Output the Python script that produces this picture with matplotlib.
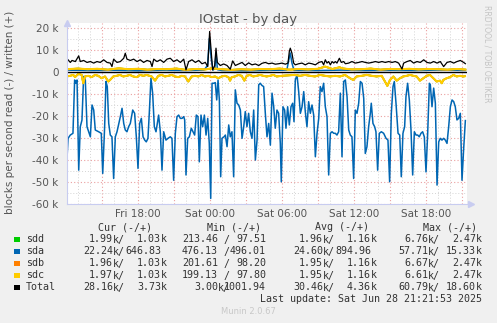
import matplotlib
matplotlib.use("Agg")
import matplotlib.pyplot as plt
from matplotlib.patches import Rectangle

# time axis: hours relative to Sat 00:00
tick_hours = [-9, -6, -3, 0, 3, 6, 9, 12, 15, 18, 21]
tick_labels = ["", "Fri 18:00", "", "Sat 00:00", "", "Sat 06:00", "", "Sat 12:00", "", "Sat 18:00", ""]

# sda read (plotted negative), values in k blocks/s
sda_read_t = [-11.94, -11.83, -11.64, -11.42, -11.28, -11.17, -11.08, -10.94, -10.81, -10.67, -10.53, -10.39,
              -10.25, -10.11, -9.97, -9.83, -9.69, -9.56, -9.28, -9.06, -8.94, -8.78, -8.67, -8.56, -8.44,
              -8.31, -8.17, -8.03, -7.89, -7.75, -7.47, -7.33, -7.19, -7.06, -6.92, -6.78, -6.64, -6.44,
              -6.28, -6.14, -6.0, -5.86, -5.72, -5.58, -5.44, -5.31, -5.17, -5.06, -4.92, -4.78, -4.64,
              -4.5, -4.28, -4.14, -4.0, -3.86, -3.67, -3.5, -3.31, -3.17, -3.03, -2.89, -2.75, -2.61,
              -2.47, -2.33, -2.19, -2.11, -2.0, -1.86, -1.72, -1.56, -1.42, -1.28, -1.14, -1.0, -0.89,
              -0.75, -0.61, -0.47, -0.33, -0.19, -0.06, 0.06, 0.17, 0.31, 0.44, 0.56, 0.67, 0.78, 0.89,
              1.0, 1.17, 1.28, 1.42, 1.56, 1.69, 1.83, 1.97, 2.11, 2.25, 2.39, 2.53, 2.67, 2.81, 2.94,
              3.08, 3.22, 3.36, 3.5, 3.64, 3.78, 3.92, 4.06, 4.19, 4.33, 4.47, 4.61, 4.75, 4.89, 5.03,
              5.17, 5.31, 5.44, 5.58, 5.72, 5.86, 5.94, 6.08, 6.22, 6.33, 6.47, 6.61, 6.75, 6.89, 7.0,
              7.11, 7.25, 7.39, 7.53, 7.67, 7.81, 7.94, 8.08, 8.22, 8.36, 8.5, 8.64, 8.78, 8.92, 9.06,
              9.19, 9.33, 9.47, 9.61, 9.75, 9.89, 10.03, 10.17, 10.31, 10.44, 10.58, 10.72, 10.86, 11.0,
              11.14, 11.28, 11.42, 11.56, 11.69, 11.83, 11.97, 12.11, 12.25, 12.39, 12.53, 12.67, 12.81,
              12.94, 13.08, 13.22, 13.36, 13.44, 13.58, 13.72, 13.83, 13.97, 14.11, 14.28, 14.47, 14.67,
              14.83, 14.97, 15.11, 15.25, 15.36, 15.5, 15.67, 15.81, 15.94, 16.08, 16.22, 16.33, 16.47,
              16.61, 16.75, 16.89, 17.03, 17.17, 17.31, 17.44, 17.58, 17.72, 17.86, 18.0, 18.14, 18.28,
              18.36, 18.5, 18.64, 18.78, 18.92, 19.06, 19.19, 19.33, 19.47, 19.61, 19.75, 19.89, 20.03,
              20.17, 20.31, 20.44, 20.58, 20.72, 20.86, 21.0, 21.14, 21.28]
sda_read = [42, 30.3, 28.8, 28, 3.7, 5.2, 3.7, 44.8, 25, 22, 2.1, 3.7,
            25, 27.3, 29.6, 15.1, 17.4, 26.5, 27.3, 28, 46.3, 25, 4.4, 6.7, 23.5,
            28.8, 29.6, 48.6, 29.6, 27.3, 20.4, 16.6, 23.5, 26.5, 27.3, 25, 23.5, 17.4,
            18.9, 29.6, 44, 23.5, 21.2, 29.6, 31.1, 31.9, 30.3, 18.9, 2.9, 9.7, 25,
            27.3, 19.7, 27.3, 44.8, 27.3, 31.1, 30.3, 29.6, 30.3, 49.4, 28, 20.4, 19.7,
            21.2, 21.2, 20.4, 21.9, 47, 30.3, 29.6, 25.7, 27.3, 28.8, 19.7, 20.4, 41,
            19.7, 25, 19.7, 28.8, 21.2, 32.6, 57.7, 5.2, 5.2, 4.9, 12.8, 3.7, 12.8, 47.8,
            30.3, 29.6, 28.8, 34.1, 24.2, 29.6, 27.3, 47.8, 8.2, 14.3, 15.1, 17.4, 30.3, 25, 18.1,
            25, 18.9, 27.3, 30.3, 17.4, 40.2, 31.1, 5.9, 5.2, 6.2, 6.7, 18.9, 29.6, 23.5, 33.4,
            9.7, 15.9, 25.7, 17.4, 18.9, 32.6, 50.1, 15.9, 17.4, 25.7, 15.9, 24.2, 15.9, 14.3, 22.7,
            3.7, 1.4, 9, 18.9, 15.9, 9, 18.1, 25, 13.6, 18.9, 15.1, 19.7, 38.7, 28, 21.2,
            6.7, 9, 5.2, 15.9, 20.4, 47, 28, 27.3, 28, 28, 28.8, 27.3, 9.7, 38.7,
            4.4, 3.7, 11.3, 26.5, 28.8, 29.6, 48.6, 17.4, 18.9, 14.3, 4.4, 5.2, 12,
            37.2, 34.1, 25, 18.9, 14.3, 23.5, 25, 27.3, 44.8, 28, 27.3, 28, 30.3,
            31.1, 50.1, 18.9, 6.7, 4.4, 14.3, 28, 28.8, 47.8, 28, 25, 11.3, 5.2,
            12.8, 26.5, 47, 27.3, 28.8, 28.8, 29.6, 28, 27.3, 29.6, 45.6, 28, 5.2,
            5.9, 15.9, 7.4, 14.3, 51.6, 31.9, 30.3, 31.1, 30.3, 31.1, 32.6, 25, 15.9,
            12.8, 13.6, 15.9, 21.9, 21.2, 18.9, 49.4, 34.9, 22.2]

# sda written
sda_write_t = [-11.94, -10, -8, -6, -4, -2, -0.5, -0.2, -0.05, 0.1, 0.25, 0.4, 0.5, 0.62, 1.0, 3, 5,
               6.4, 6.55, 6.69, 6.83, 7.0, 9, 11, 13, 15, 17, 19, 21.28]
sda_write = [0.8, 0.6, 0.7, 0.5, 0.7, 0.6, 0.8, 3.0, 15.3, 6.0, 0.8, 1.5, 8.5, 1.0, 0.6, 0.5, 0.7,
             0.8, 5.0, 8.6, 4.0, 0.7, 0.6, 0.8, 0.6, 0.7, 0.6, 0.8, 0.65]

# sdc read (sdb and sdd are practically the same and hidden under it)
sdc_read_t = [-11.94, -11.67, -11.39, -11.25, -10.97, -10.69, -10.56, -10.42, -10.14, -9.86, -9.58,
              -9.31, -9.03, -8.75, -8.47, -8.33, -8.06, -7.78, -7.5, -7.22, -6.94, -6.67, -6.39, -6.11,
              -5.83, -5.56, -5.28, -4.86, -4.58, -4.31, -4.03, -3.75, -3.47, -3.19, -2.92, -2.64, -2.36,
              -2.08, -1.81, -1.53, -1.25, -0.97, -0.69, -0.42, -0.14, 0.14, 0.42, 0.69, 0.97, 1.25,
              1.53, 1.67, 1.81, 2.08, 2.36, 2.64, 2.86, 3.06, 3.33, 3.61, 3.89, 4.17, 4.44, 4.72, 5.0,
              5.28, 5.56, 6.0, 6.5, 7.08, 7.5, 7.92, 8.33, 8.75, 9.17, 9.58, 10.0, 10.42, 10.83, 11.25,
              11.67, 11.94, 12.22, 12.64, 13.06, 13.47, 13.89, 14.31, 14.58, 14.78, 15.0, 15.28, 15.56,
              15.83, 16.11, 16.39, 16.67, 16.94, 17.22, 17.5, 17.78, 18.06, 18.33, 18.61, 18.89, 19.17,
              19.31, 19.44, 19.72, 20.0, 20.28, 20.56, 20.83, 21.11, 21.25]
sdc_read = [2.1, 1.8, 1.4, 2.4, 0.9, 1.4, 5.2, 2.1, 1.8, 2.4, 1.4,
            1.8, 2.9, 2.1, 4.4, 3.7, 2.1, 1.8, 1.4, 2.1, 1.8, 1.4, 2.1, 2.4,
            1.4, 1.8, 1.4, 2.1, 4.0, 1.8, 1.4, 2.1, 1.8, 1.4, 2.1, 2.4, 1.8,
            2.1, 4.4, 2.1, 1.8, 2.1, 1.4, 2.1, 1.8, 2.4, 2.1, 2.9, 2.1, 1.8,
            2.4, 4.0, 2.4, 2.1, 1.4, 1.8, 4.0, 1.8, 1.4, 2.1, 1.8, 1.4, 1.8, 2.1, 1.8,
            1.4, 2.1, 1.8, 1.6, 1.4, 1.8, 1.4, 1.8, 2.1, 1.4, 1.8, 2.1, 1.8, 2.1, 1.4,
            2.9, 3.7, 2.1, 1.8, 1.4, 1.8, 2.1, 1.8, 4.4, 6.4, 3.7, 2.1, 4.0,
            2.9, 2.1, 1.8, 1.4, 1.8, 2.1, 4.0, 2.9, 1.8, 1.4, 2.9, 4.4, 4.0,
            5.2, 3.7, 2.9, 2.4, 1.4, 2.1, 1.8, 2.1, 1.97]

# sdc written
sdc_write_t = [-11.94, -11.0, -10.2, -9.4, -8.5, -7.6, -6.8, -6.0, -5.2, -4.4, -3.6, -2.8, -2.0, -1.2,
               -0.4, 0.2, 1.0, 1.8, 2.6, 3.4, 4.2, 5.0, 5.8, 6.6, 7.4, 8.2, 9.0, 9.6, 10.2, 10.8, 11.0,
               11.8, 12.6, 13.4, 14.2, 15.0, 15.8, 16.6, 17.4, 18.2, 19.0, 19.8, 20.6, 21.28]
sdc_write = [1.2, 1.5, 1.2, 1.4, 1.0, 1.6, 1.2, 1.4, 1.0, 1.3, 1.2, 1.5, 0.9, 1.3,
             1.1, 1.6, 1.2, 0.9, 1.2, 1.0, 1.3, 1.2, 1.5, 1.0, 1.3, 1.1, 1.4, 2.4, 1.3, 2.1, 1.6,
             1.1, 1.2, 1.5, 1.0, 1.3, 1.2, 1.4, 1.1, 1.3, 1.2, 1.0, 1.3, 1.03]

# Total written
total_write_t = [-11.83, -11.64, -11.5, -11.22, -10.94, -10.81, -10.53, -10.25, -9.97, -9.69, -9.42,
                 -9.14, -8.86, -8.58, -8.31, -8.17, -8.03, -7.75, -7.47, -7.19, -7.06, -6.92, -6.64,
                 -6.36, -6.08, -5.81, -5.53, -5.25, -4.97, -4.83, -4.69, -4.42, -4.14, -3.86, -3.58,
                 -3.31, -3.03, -2.75, -2.47, -2.19, -2.0, -1.78, -1.5, -1.22, -0.94, -0.67, -0.39, -0.19,
                 -0.03, 0.11, 0.22, 0.39, 0.5, 0.61, 0.86, 1.14, 1.42, 1.69, 1.89, 2.11, 2.39, 2.67, 2.94,
                 3.22, 3.5, 3.78, 4.06, 4.33, 4.61, 4.89, 5.17, 5.44, 5.72, 6.0, 6.28, 6.5, 6.61, 6.69,
                 6.83, 6.97, 7.11, 7.39, 7.67, 7.94, 8.22, 8.5, 8.78, 9.06, 9.33, 9.47, 9.61, 9.75, 9.89,
                 10.03, 10.17, 10.31, 10.44, 10.58, 10.78, 10.94, 11.14, 11.28, 11.56, 11.83, 12.11,
                 12.39, 12.67, 12.94, 13.22, 13.5, 13.78, 14.06, 14.33, 14.61, 14.89, 15.17, 15.44,
                 15.72, 16.0, 16.14, 16.42, 16.69, 16.97, 17.25, 17.53, 17.81, 18.08, 18.36, 18.64,
                 18.92, 19.19, 19.47, 19.75, 20.03, 20.31, 20.58, 20.86, 21.14, 21.28]
total_write = [5.5, 4.3, 5.2, 4.7, 7.3, 4.7, 5.2, 4.3, 4.7, 4.0, 4.7,
               4.3, 5.5, 4.3, 4.0, 2.4, 5.8, 4.3, 4.7, 6.2, 8.5, 5.8, 5.2,
               5.8, 4.7, 5.5, 4.3, 5.2, 4.7, 2.4, 5.8, 4.7, 5.5, 4.3, 5.8,
               6.2, 4.7, 5.5, 4.3, 5.8, 0.9, 4.7, 5.5, 4.3, 5.2, 3.7, 4.3, 2.4,
               18.4, 8.5, 0.9, 2.9, 10.8, 4.3, 2.9, 3.6, 2.9, 1.2, 5.0, 2.9, 3.6, 4.3, 2.9,
               4.1, 3.2, 3.6, 2.9, 3.9, 4.3, 3.7, 4.0, 3.5, 3.7, 4.0, 3.5, 4.0, 9.3, 10.8,
               8.5, 4.0, 3.2, 3.7, 4.0, 3.2, 4.0, 3.7, 3.2, 4.3, 4.7, 3.2, 5.5, 4.0, 4.7,
               3.2, 4.7, 4.0, 4.7, 4.0, 6.2, 4.3, 4.7, 3.7, 4.0, 4.7, 4.0,
               4.3, 4.7, 4.3, 4.0, 4.3, 4.7, 4.3, 4.7, 4.3, 4.7, 4.3, 4.7,
               4.0, 1.3, 4.0, 4.7, 5.2, 4.0, 4.7, 4.3, 5.5, 4.3, 4.0, 4.7,
               4.0, 4.7, 2.4, 4.3, 4.7, 4.0, 4.7, 5.2, 4.3, 3.73]

# legend table: (read, written) per row, as munin prints them
names = ["sdd", "sda", "sdb", "sdc", "Total"]
colors = ["#00CC00", "#0066B3", "#FF8000", "#FFCC00", "#000000"]
cur_read = ["1.99k", "22.24k", "1.96k", "1.97k", "28.16k"]
cur_write = ["1.03k", "646.83", "1.03k", "1.03k", "3.73k"]
min_read = ["213.46", "476.13", "201.61", "199.13", "3.00k"]
min_write = ["97.51", "496.01", "98.20", "97.80", "1001.94"]
avg_read = ["1.96k", "24.60k", "1.95k", "1.95k", "30.46k"]
avg_write = ["1.16k", "894.96", "1.16k", "1.16k", "4.36k"]
max_read = ["6.76k", "57.71k", "6.67k", "6.61k", "60.79k"]
max_write = ["2.47k", "15.33k", "2.47k", "2.47k", "18.60k"]

W, H = 497, 323
fig = plt.figure(figsize=(W / 100, H / 100), dpi=100, facecolor="#F0F0F0")
ax = fig.add_axes([67 / W, 1 - 203.5 / H, 400 / W, 181 / H])
ax.set_facecolor("white")


def k(vals, sign):
    return [sign * v * 1000 for v in vals]


# draw order as munin: sdd, sda, sdb, sdc, total
ax.plot(sdc_read_t, k(sdc_read, -1), color=colors[0], lw=1.2)
ax.plot(sdc_write_t, k(sdc_write, 1), color=colors[0], lw=1.2)
ax.plot(sda_read_t, k(sda_read, -1), color=colors[1], lw=1.1)
ax.plot(sda_write_t, k(sda_write, 1), color=colors[1], lw=1.1)
ax.plot(sdc_read_t, k(sdc_read, -1), color=colors[2], lw=1.2)
ax.plot(sdc_write_t, k(sdc_write, 1), color=colors[2], lw=1.2)
ax.plot(sdc_read_t, k(sdc_read, -1), color=colors[3], lw=1.5)
ax.plot(sdc_write_t, k(sdc_write, 1), color=colors[3], lw=1.5)
ax.plot(total_write_t, k(total_write, 1), color=colors[4], lw=0.9)
ax.axhline(0, color="black", lw=1.0)

ax.set_xlim(-143 / 12, 257 / 12)
ax.set_ylim(-60000, 22500)

ax.set_xticks(tick_hours)
ax.set_xticklabels(tick_labels)
ax.set_xticks(range(-11, 22), minor=True)
yt = list(range(-60000, 20001, 10000))
ax.set_yticks(yt)
ax.set_yticklabels([("%d k" % (v // 1000)) if v != 0 else "0" for v in yt])
ax.set_yticks(range(-55000, 22000, 5000), minor=True)

ax.grid(which="minor", color="#d4d4d4", linestyle=(0, (1, 2)), lw=0.7)
ax.grid(which="major", color="#eaa0a0", linestyle=(0, (1, 2)), lw=0.8)
ax.set_axisbelow(True)
ax.tick_params(which="both", length=0, labelsize=7.5, labelcolor="#555555")
ax.tick_params(axis="y", pad=6)
ax.tick_params(axis="x", pad=4)

for s in ["top", "right"]:
    ax.spines[s].set_visible(False)
for s in ["left", "bottom"]:
    ax.spines[s].set_color("#c8ccf0")
ax.plot([0], [1], marker="^", color="#c8ccf0", ms=5, transform=ax.transAxes, clip_on=False)
ax.plot([1.01], [0], marker=">", color="#c8ccf0", ms=5, transform=ax.transAxes, clip_on=False)

fig.text(248 / W, 1 - 20 / H, "IOstat - by day", ha="center", va="center", fontsize=9.5, color="#555555")
fig.text(10 / W, 1 - 112 / H, "blocks per second read (-) / written (+)", rotation=90,
         ha="center", va="center", fontsize=7.5, color="#555555")
fig.text(487 / W, 1 - 54 / H, "RRDTOOL / TOBI OETIKER", rotation=270,
         ha="center", va="center", fontsize=5.5, color="#c4c4c4")

# legend block
mono = "DejaVu Sans Mono"
fs = 7.2
tc = "#333333"
for hx, h in zip([98, 207, 315, 423], ["Cur (-/+)", "Min (-/+)", "Avg (-/+)", "Max (-/+)"]):
    fig.text(hx / W, 1 - 227 / H, h, family=mono, fontsize=fs, color=tc, va="center")


def split(s):
    if s.endswith("k"):
        return s[:-1], "k"
    return s, ""


cols = [(77, cur_read, cur_write), (182, min_read, min_write),
        (287, avg_read, avg_write), (392, max_read, max_write)]
for i, name in enumerate(names):
    y = 1 - (239.5 + 12 * i) / H
    sq = Rectangle((14 / W, y - 2.7 / H), 5.5 / W, 5.5 / H, transform=fig.transFigure,
                   facecolor=colors[i], edgecolor="none")
    fig.patches.append(sq)
    fig.text(26 / W, y, name, family=mono, fontsize=fs, color=tc, va="center")
    for xs, rd, wr in cols:
        num, unit = split(rd[i])
        fig.text((xs + 36) / W, y, num, family=mono, fontsize=fs, color=tc, va="center", ha="right")
        fig.text((xs + 36) / W, y, (unit if unit else " ") + "/", family=mono, fontsize=fs, color=tc,
                 va="center")
        num, unit = split(wr[i])
        fig.text((xs + 84) / W, y, num, family=mono, fontsize=fs, color=tc, va="center", ha="right")
        fig.text((xs + 84) / W, y, unit, family=mono, fontsize=fs, color=tc, va="center")

fig.text(482 / W, 1 - 299.5 / H, "Last update: Sat Jun 28 21:21:53 2025", family=mono, fontsize=fs,
         color=tc, va="center", ha="right")
fig.text(248 / W, 1 - 312 / H, "Munin 2.0.67", fontsize=6, color="#c8c8c8", va="center", ha="center")

fig.savefig("out.png", dpi=100, facecolor=fig.get_facecolor())
